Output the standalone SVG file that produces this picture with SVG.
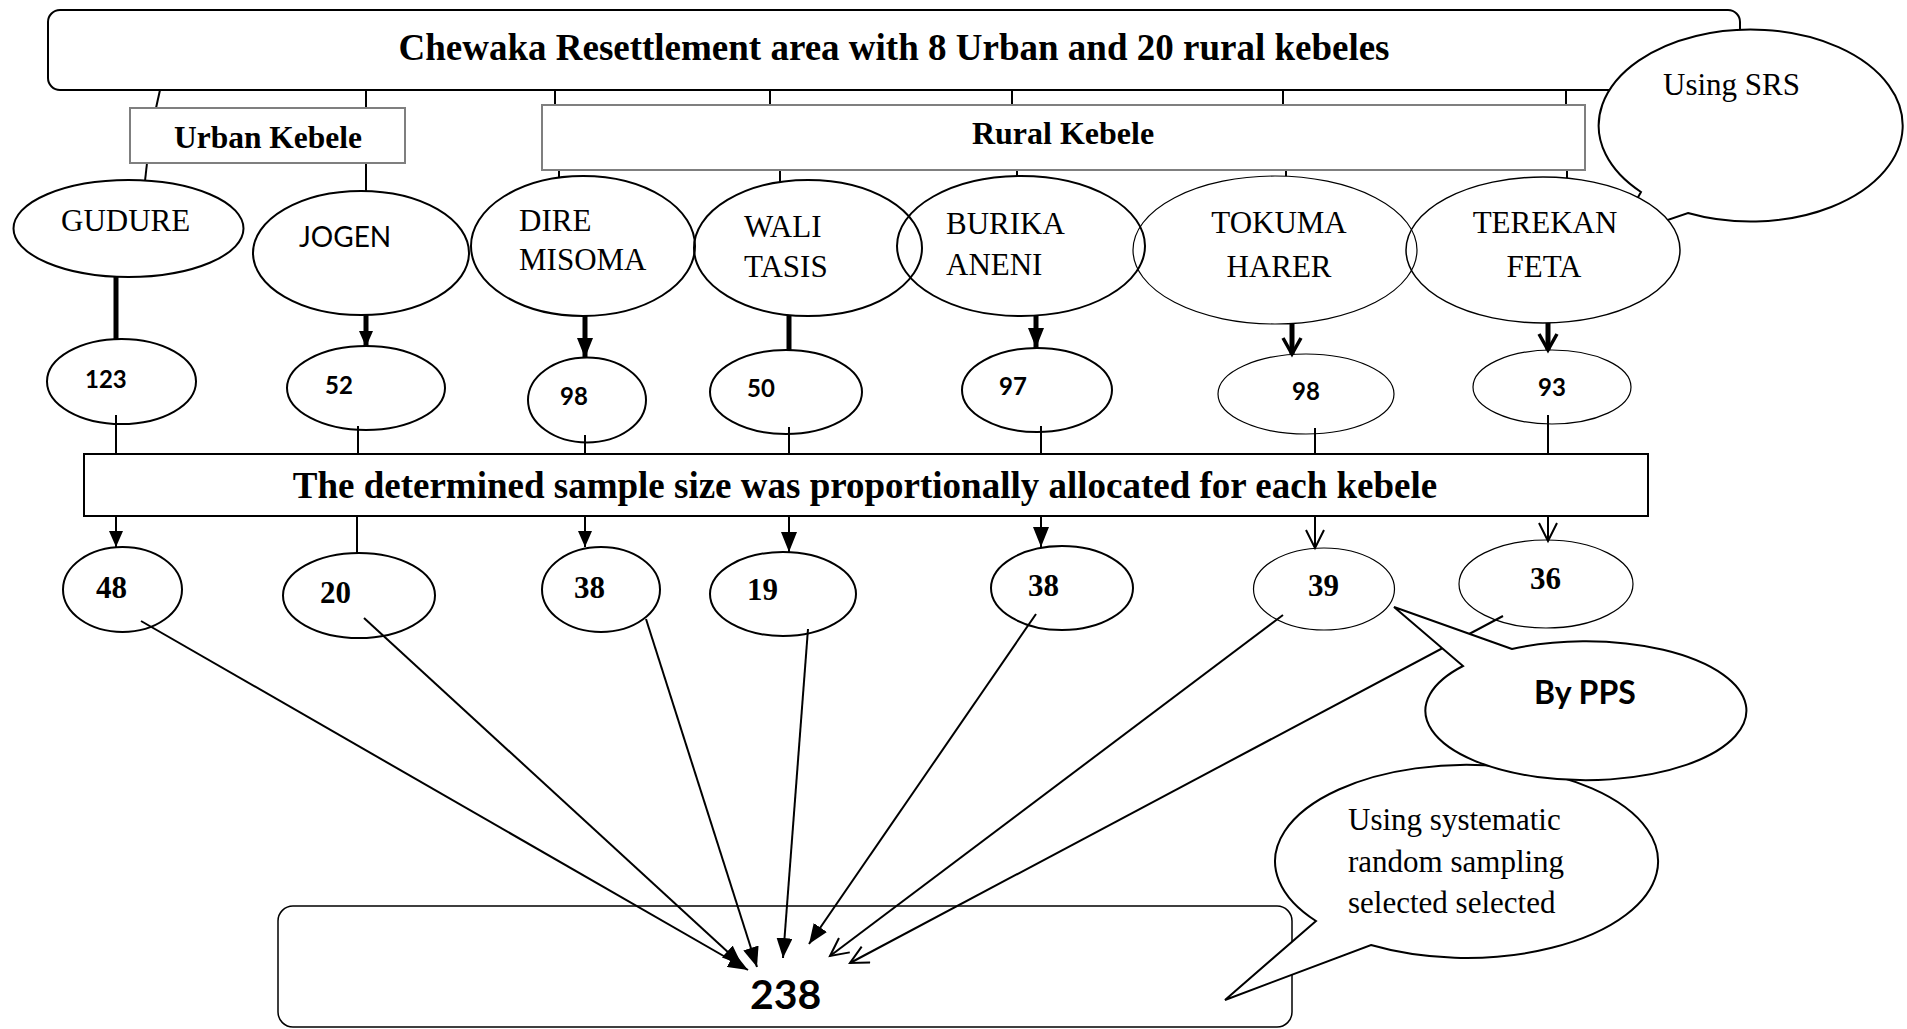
<svg xmlns="http://www.w3.org/2000/svg" width="1907" height="1029" viewBox="0 0 1907 1029">
<style>
.tnr{font-family:"Liberation Serif","Times New Roman",serif;fill:#000}
.b{font-weight:bold}
.cal{font-family:Lato,"Open Sans",sans-serif;fill:#000}
.ln{stroke:#000;stroke-width:2;fill:none}
.thk{stroke:#000;stroke-width:5;fill:none}
.el{fill:#fff;stroke:#000;stroke-width:2}
.elt{fill:#fff;stroke:#000;stroke-width:1.2}
.gbox{fill:#fff;stroke:#7f7f7f;stroke-width:2}
.call{fill:#fff;stroke:#000;stroke-width:2}
</style>
<defs>
<marker id="fa" markerUnits="userSpaceOnUse" markerWidth="20" markerHeight="16" refX="20" refY="8" orient="auto"><path d="M0,0 L20,8 L0,16 z" fill="#000"/></marker>
<marker id="fs" markerUnits="userSpaceOnUse" markerWidth="16" markerHeight="14" refX="16" refY="7" orient="auto"><path d="M0,0 L16,7 L0,14 z" fill="#000"/></marker>
<marker id="va" markerUnits="userSpaceOnUse" markerWidth="22" markerHeight="20" refX="19" refY="10" orient="auto"><path d="M1,1 L19,10 L1,19" fill="none" stroke="#000" stroke-width="2"/></marker>
<marker id="vt" markerUnits="userSpaceOnUse" markerWidth="22" markerHeight="22" refX="18" refY="11" orient="auto"><path d="M2,2 L18,11 L2,20" fill="none" stroke="#000" stroke-width="3.5"/></marker>
</defs>

<g id="top-box">
<rect x="48" y="10" width="1692" height="80" rx="12" fill="#fff" stroke="#000" stroke-width="2"/>
<text class="tnr b" x="894" y="60" font-size="37" text-anchor="middle">Chewaka Resettlement area with 8 Urban and 20 rural kebeles</text>
</g>

<g id="using-srs">
<path class="call" d="M1641,192 L1615,238 L1688,213 A152,96 0 1 0 1641,192 Z"/>
<text class="tnr" x="1663" y="95" font-size="31">Using SRS</text>
</g>

<g id="top-connectors">
<line class="ln" x1="160" y1="90" x2="156" y2="108"/>
<line class="ln" x1="366" y1="90" x2="366" y2="108"/>
<line class="ln" x1="555" y1="90" x2="555" y2="105"/>
<line class="ln" x1="770" y1="90" x2="770" y2="105"/>
<line class="ln" x1="1012" y1="90" x2="1012" y2="105"/>
<line class="ln" x1="1283" y1="90" x2="1283" y2="105"/>
<line class="ln" x1="1566" y1="90" x2="1566" y2="105"/>
<line class="ln" x1="147" y1="163" x2="145" y2="181"/>
<line class="ln" x1="366" y1="163" x2="366" y2="191"/>
<line class="ln" x1="559" y1="170" x2="559" y2="178"/>
<line class="ln" x1="780" y1="170" x2="780" y2="182"/>
<line class="ln" x1="1017" y1="170" x2="1017" y2="178"/>
<line class="ln" x1="1286" y1="170" x2="1286" y2="178"/>
<line class="ln" x1="1567" y1="170" x2="1567" y2="178"/>
</g>

<g id="urban-kebele">
<rect class="gbox" x="130" y="108" width="275" height="55"/>
<text class="tnr b" x="268" y="148" font-size="31.5" text-anchor="middle">Urban Kebele</text>
</g>
<g id="rural-kebele">
<rect class="gbox" x="542" y="105" width="1043" height="65"/>
<text class="tnr b" x="1063" y="144" font-size="32" text-anchor="middle">Rural Kebele</text>
</g>

<g id="name-fills" fill="#fff" stroke="none">
<ellipse cx="128.5" cy="228.5" rx="115" ry="48.5"/>
<ellipse cx="361" cy="253" rx="108" ry="62"/>
<ellipse cx="583" cy="246" rx="112" ry="70"/>
<ellipse cx="808" cy="248" rx="114" ry="68"/>
<ellipse cx="1021" cy="246" rx="124" ry="70"/>
<ellipse cx="1275" cy="250" rx="142" ry="74"/>
<ellipse cx="1543" cy="250" rx="137" ry="73"/>
</g>
<g id="gudure"><ellipse cx="128.5" cy="228.5" rx="115" ry="48.5" fill="none" stroke="#000" stroke-width="2"/><text class="tnr" x="61" y="231" font-size="31">GUDURE</text></g>
<g id="jogen"><ellipse cx="361" cy="253" rx="108" ry="62" fill="none" stroke="#000" stroke-width="2"/><text class="cal" x="299" y="247" font-size="28">JOGEN</text></g>
<g id="dire-misoma"><ellipse cx="583" cy="246" rx="112" ry="70" fill="none" stroke="#000" stroke-width="2"/><text class="tnr" font-size="31"><tspan x="519" y="231">DIRE</tspan><tspan x="519" y="270">MISOMA</tspan></text></g>
<g id="wali-tasis"><ellipse cx="808" cy="248" rx="114" ry="68" fill="none" stroke="#000" stroke-width="2"/><text class="tnr" font-size="31"><tspan x="744" y="237">WALI</tspan><tspan x="744" y="277">TASIS</tspan></text></g>
<g id="burika-aneni"><ellipse cx="1021" cy="246" rx="124" ry="70" fill="none" stroke="#000" stroke-width="2"/><text class="tnr" font-size="31"><tspan x="946" y="234">BURIKA</tspan><tspan x="946" y="275">ANENI</tspan></text></g>
<g id="tokuma-harer"><ellipse cx="1275" cy="250" rx="142" ry="74" fill="none" stroke="#000" stroke-width="1.2"/><text class="tnr" font-size="31" text-anchor="middle"><tspan x="1279" y="233">TOKUMA</tspan><tspan x="1279" y="277">HARER</tspan></text></g>
<g id="terekan-feta"><ellipse cx="1543" cy="250" rx="137" ry="73" fill="none" stroke="#000" stroke-width="1.5"/><text class="tnr" font-size="31" text-anchor="middle"><tspan x="1545" y="233">TEREKAN</tspan><tspan x="1544" y="277">FETA</tspan></text></g>

<g id="n123"><ellipse class="el" cx="121.5" cy="381.5" rx="74.5" ry="42.5"/><text class="cal b" x="85" y="388" font-size="24">123</text></g>
<g id="n52"><ellipse class="el" cx="366" cy="388" rx="79" ry="42"/><text class="cal b" x="325" y="394" font-size="24">52</text></g>
<g id="n98a"><ellipse class="el" cx="587" cy="400" rx="59" ry="42.5"/><text class="cal b" x="560" y="405" font-size="24">98</text></g>
<g id="n50"><ellipse class="el" cx="786" cy="392" rx="76" ry="42"/><text class="cal b" x="747" y="397" font-size="24">50</text></g>
<g id="n97"><ellipse class="el" cx="1037" cy="390" rx="75" ry="42"/><text class="cal b" x="999" y="395" font-size="24">97</text></g>
<g id="n98b"><ellipse class="elt" cx="1306" cy="394" rx="88" ry="40"/><text class="cal b" x="1292" y="400" font-size="24">98</text></g>
<g id="n93"><ellipse class="elt" cx="1552" cy="387" rx="79" ry="37"/><text class="cal b" x="1538" y="396" font-size="24">93</text></g>

<g id="allocation-box">
<rect x="84" y="454" width="1564" height="62" fill="#fff" stroke="#000" stroke-width="2"/>
<text class="tnr b" x="865" y="498" font-size="37" text-anchor="middle">The determined sample size was proportionally allocated for each kebele</text>
</g>

<g id="s48"><ellipse class="el" cx="122.5" cy="589.5" rx="59.5" ry="42.5"/><text class="tnr b" x="96" y="598" font-size="31">48</text></g>
<g id="s20"><ellipse class="el" cx="359" cy="595.5" rx="76" ry="42.5"/><text class="tnr b" x="320" y="603" font-size="31">20</text></g>
<g id="s38a"><ellipse class="el" cx="601" cy="589.5" rx="59" ry="42.5"/><text class="tnr b" x="574" y="598" font-size="31">38</text></g>
<g id="s19"><ellipse class="el" cx="783" cy="594" rx="73" ry="42"/><text class="tnr b" x="747" y="600" font-size="31">19</text></g>
<g id="s38b"><ellipse class="el" cx="1062" cy="588" rx="71" ry="42"/><text class="tnr b" x="1028" y="596" font-size="31">38</text></g>
<g id="s39"><ellipse class="elt" cx="1324" cy="589" rx="70.5" ry="41"/><text class="tnr b" x="1308" y="596" font-size="31">39</text></g>
<g id="s36"><ellipse class="elt" cx="1546" cy="584" rx="87" ry="44"/><text class="tnr b" x="1530" y="589" font-size="31">36</text></g>

<g id="connectors">
<line class="thk" x1="116" y1="277" x2="116" y2="340"/>
<line class="thk" x1="366" y1="315" x2="366" y2="347" marker-end="url(#fs)"/>
<line class="thk" x1="585" y1="316" x2="585" y2="358" marker-end="url(#fa)"/>
<line class="thk" x1="789" y1="316" x2="789" y2="350"/>
<line class="thk" x1="1036" y1="316" x2="1036" y2="348" marker-end="url(#fa)"/>
<line class="thk" x1="1292" y1="324" x2="1292" y2="354" marker-end="url(#vt)"/>
<line class="thk" x1="1548" y1="323" x2="1548" y2="350" marker-end="url(#vt)"/>
<line class="ln" x1="116" y1="415" x2="116" y2="454"/>
<line class="ln" x1="358" y1="426" x2="358" y2="454"/>
<line class="ln" x1="585" y1="435" x2="585" y2="454"/>
<line class="ln" x1="789" y1="427" x2="789" y2="454"/>
<line class="ln" x1="1041" y1="426" x2="1041" y2="454"/>
<line class="ln" x1="1315" y1="428" x2="1315" y2="454"/>
<line class="ln" x1="1548" y1="415" x2="1548" y2="454"/>
<line class="ln" x1="116" y1="516" x2="116" y2="547" marker-end="url(#fs)"/>
<line class="ln" x1="357" y1="516" x2="357" y2="553"/>
<line class="ln" x1="585" y1="516" x2="585" y2="547" marker-end="url(#fs)"/>
<line class="ln" x1="789" y1="516" x2="789" y2="552" marker-end="url(#fa)"/>
<line class="ln" x1="1041" y1="516" x2="1041" y2="547" marker-end="url(#fa)"/>
<line class="ln" x1="1315" y1="516" x2="1315" y2="548" marker-end="url(#va)"/>
<line class="ln" x1="1548" y1="516" x2="1548" y2="541" marker-end="url(#va)"/>
<line class="ln" x1="141" y1="621" x2="748" y2="970" marker-end="url(#fa)"/>
<line class="ln" x1="364" y1="618" x2="742" y2="965" marker-end="url(#fa)"/>
<line class="ln" x1="646" y1="619" x2="757" y2="967" marker-end="url(#fa)"/>
<line class="ln" x1="808" y1="629" x2="783" y2="958" marker-end="url(#fa)"/>
<line class="ln" x1="1036" y1="614" x2="809" y2="944" marker-end="url(#fa)"/>
<line class="ln" x1="1283" y1="615" x2="830" y2="956" marker-end="url(#va)"/>
<line class="ln" x1="1503" y1="616" x2="850" y2="963" marker-end="url(#va)"/>
</g>

<g id="total">
<rect x="278" y="906" width="1014" height="121" rx="15" fill="none" stroke="#000" stroke-width="1.5"/>
<text class="cal b" x="750" y="1009" font-size="41">238</text>
</g>

<g id="systematic">
<path class="call" d="M1316,921 L1225,1000 L1371,945 A191.5,96.5 0 1 0 1316,921 Z"/>
<text class="tnr" font-size="31"><tspan x="1348" y="830">Using systematic</tspan><tspan x="1348" y="872">random sampling</tspan><tspan x="1348" y="913">selected selected</tspan></text>
</g>

<g id="by-pps">
<path class="call" d="M1512,649 L1394,607 L1463,666 A160.5,69.5 0 1 0 1512,649 Z"/>
<text class="cal b" x="1534" y="704" font-size="32">By PPS</text>
</g>
</svg>
